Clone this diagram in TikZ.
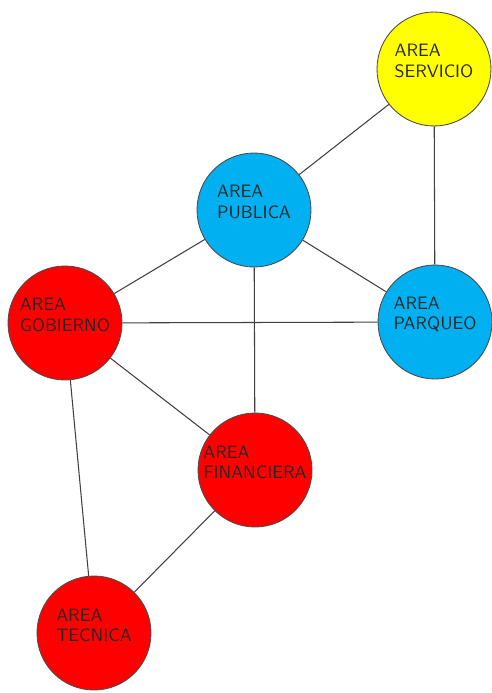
\documentclass[tikz,border=0pt]{standalone}
\usepackage{tikz}
\usetikzlibrary{positioning}
\definecolor{areablue}{RGB}{0,176,240}
\definecolor{areared}{RGB}{255,0,0}
\definecolor{areayellow}{RGB}{255,255,0}

\begin{document}
\begin{tikzpicture}[x=0.02cm, y=-0.02cm,
  area/.style={circle, draw=black!70, line width=0.5pt, minimum size=2.28cm, inner sep=0pt},
  lbl/.style={align=left, inner sep=0pt, text=black!85, font=\sffamily\fontsize{10.2}{11.6}\selectfont},
  link/.style={draw=black!75, line width=0.6pt}]
\useasboundingbox (0,0) rectangle (492,693);
\node[area, fill=areayellow] (serv) at (434,69) {};
\node[area, fill=areablue] (pub) at (254,210) {};
\node[area, fill=areared] (gob) at (65,323) {};
\node[area, fill=areablue] (parq) at (435,322) {};
\node[area, fill=areared] (fin) at (255,470) {};
\node[area, fill=areared] (tec) at (94,633) {};
\node[lbl, yshift=4.5pt] (serv-t) at (serv) {AREA\\SERVICIO};
\node[lbl, yshift=4.5pt] (pub-t) at (pub) {AREA\\PUBLICA};
\node[lbl, yshift=4.5pt] (gob-t) at (gob) {AREA\\GOBIERNO};
\node[lbl, yshift=4.5pt] (parq-t) at (parq) {AREA\\PARQUEO};
\node[lbl, yshift=4.5pt] (fin-t) at (fin) {AREA\\FINANCIERA};
\node[lbl, yshift=4.5pt] (tec-t) at (tec) {AREA\\TECNICA};
\draw[link] (serv) -- (pub);
\draw[link] (serv) -- (parq);
\draw[link] (pub) -- (gob);
\draw[link] (pub) -- (parq);
\draw[link] (pub) -- (fin);
\draw[link] (gob) -- (parq);
\draw[link] (gob) -- (fin);
\draw[link] (gob) -- (tec);
\draw[link] (fin) -- (tec);
\end{tikzpicture}
\end{document}
